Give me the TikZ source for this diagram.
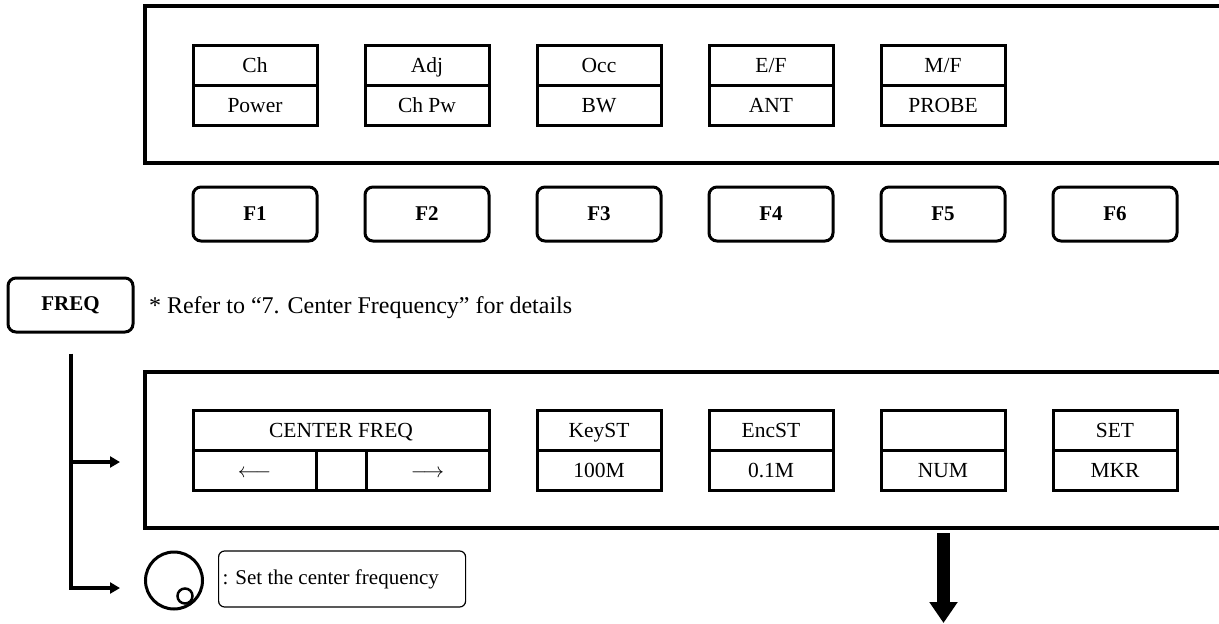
\documentclass[tikz,border=0pt]{standalone}
\usepackage{fontspec}
\setmainfont{Liberation Serif}
\usepackage{tikz}
\usetikzlibrary{shapes,arrows.meta,calc,positioning}

\begin{document}
\begin{tikzpicture}
[x=1pt,y=-1pt,every node/.style={font=\fontsize{21.5}{25}\selectfont},
cell/.style={draw,line width=3pt,minimum width=124pt,minimum height=40pt,inner sep=0pt,
	text height=16pt,text depth=2pt},
key/.style={draw,line width=3pt,rounded corners=8pt,minimum width=124pt,
	minimum height=54pt,inner sep=0pt,font=\fontsize{21}{25}\selectfont\bfseries},
flow/.style={line width=4pt,-{Triangle[width=11pt,length=10pt]}}]

\useasboundingbox (0,0) rectangle (1219,624);

% soft key menu of the display
\draw[line width=3.5pt] (1225,6) -| (145,163) -- (1225,163);
\foreach \n/\x/\ua/\ub in {1/255/Ch/Power,2/427/Adj/Ch Pw,3/599/Occ/BW,
	4/771/{E/F}/ANT,5/943/{M/F}/PROBE}{
	\node[cell] (m\n) at (\x,65) {\ua};
	\node[cell] (p\n) at (\x,105) {\ub};
}
\foreach \n/\x in {1/255,2/427,3/599,4/771,5/943,6/1115}
	\node[key] (f\n) at (\x,214) {F\n};

\node[key,minimum width=125pt] (freq) at (70.5,305) {FREQ};
\node[right=11pt of freq,yshift=-3pt,font=\fontsize{24}{28}\selectfont] (note)
	{* Refer to “7. Center Frequency” for details};

% menu after FREQ
\draw[line width=3.5pt] (1225,372) -| (145,528) -- (1225,528);
\node[cell,minimum width=296pt] (cf) at (341,430) {CENTER FREQ};
\node[cell,minimum width=123pt] (cfl) at (254.5,470) {$\longleftarrow$};
\node[cell,minimum width=50pt] (cfm) at (341,470) {};
\node[cell,minimum width=123pt] (cfr) at (427.5,470) {$\longrightarrow$};
\foreach \n/\x/\ua/\ub in {2/599/KeyST/100M,3/771/EncST/0.1M,4/943//NUM,5/1115/SET/MKR}{
	\node[cell] (s\n) at (\x,430) {\ua};
	\node[cell] (n\n) at (\x,470) {\ub};
}

% encoder knob
\node[circle,draw,line width=3pt,minimum size=57pt,inner sep=0pt] (knob) at (174,580.5) {};
\node[circle,draw,line width=2.5pt,minimum size=15pt,inner sep=0pt] (dot) at (185,596) {};
\node[draw,rounded corners=6pt,line width=1.2pt,anchor=west,inner xsep=4pt,
	minimum height=56pt,font=\fontsize{21}{24}\selectfont] (set) at (218,579)
	{\makebox[239pt][l]{: Set the center frequency}};

\coordinate (j) at ([yshift=-20pt]freq.south);
\coordinate (to1) at (120,462);
\coordinate (to2) at (120,588);
\draw[flow] (j) |- (to2);
\draw[flow] (j |- to1) -- (to1);

\coordinate (dn1) at (943.5,533);
\coordinate (dn2) at (943.5,623);
\draw[line width=13pt,-{Triangle[width=27pt,length=21pt]}] (dn1) -- (dn2);
\end{tikzpicture}
\end{document}
